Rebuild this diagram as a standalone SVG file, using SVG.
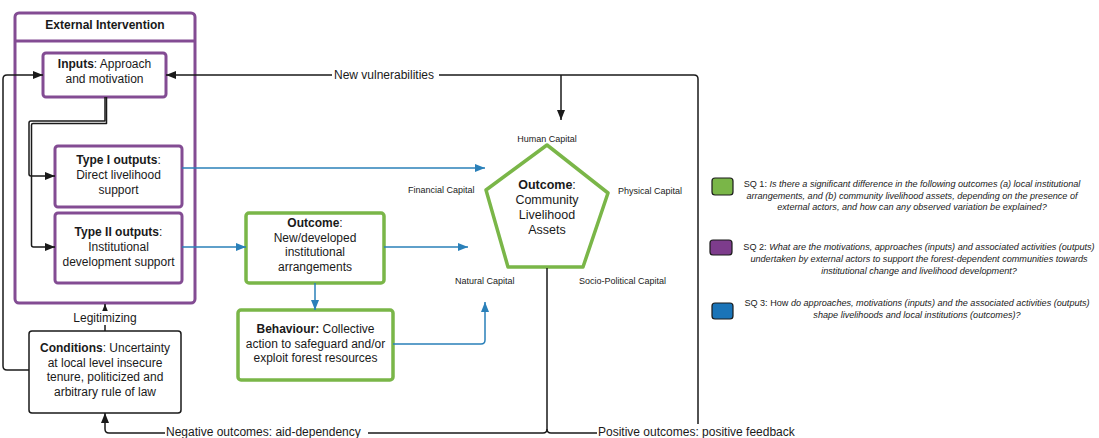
<svg xmlns="http://www.w3.org/2000/svg" width="1099" height="438" viewBox="0 0 1099 438">
<style>
text{font-family:"Liberation Sans",Arial,sans-serif;fill:#1a1a1a}
.t{font-size:12px;text-anchor:middle}
.b{font-weight:bold}
.cap{font-size:9px}
.lg{font-size:9.1px;text-anchor:middle}
.i{font-style:italic}
.pb{fill:#fff;stroke:#834c93;stroke-width:3}
.gb{fill:#fff;stroke:#7ab648;stroke-width:3.5}
.kb{fill:#fff;stroke:#1a1a1a;stroke-width:1.5}
.k{fill:none;stroke:#1a1a1a;stroke-width:1.5;stroke-linejoin:round}
.bl{fill:none;stroke:#2a80b9;stroke-width:1.5;stroke-linejoin:round}
.wb{fill:#fff}
</style>
<defs>
<marker id="ak" viewBox="0 0 10 10" refX="10" refY="5" markerWidth="10" markerHeight="10" markerUnits="userSpaceOnUse" orient="auto"><path d="M0,1 L10,5 L0,9 z" fill="#1a1a1a"/></marker>
<marker id="ab" viewBox="0 0 10 10" refX="10" refY="5" markerWidth="10" markerHeight="10" markerUnits="userSpaceOnUse" orient="auto"><path d="M0,1 L10,5 L0,9 z" fill="#2a80b9"/></marker>
</defs>
<rect width="1099" height="438" fill="#fff"/>

<g id="external-intervention">
<rect x="15" y="13" width="180" height="290" rx="4" fill="none" stroke="#834c93" stroke-width="3"/>
<line x1="15" y1="41" x2="195" y2="41" stroke="#834c93" stroke-width="3"/>
<text class="t b" x="105" y="29">External Intervention</text>
</g>

<g id="inputs">
<rect class="pb" x="43" y="53" width="123" height="44" rx="3"/>
<text class="t" x="104.5" y="68"><tspan class="b">Inputs</tspan>: Approach</text>
<text class="t" x="104.5" y="83">and motivation</text>
</g>

<g id="type1">
<rect class="pb" x="55" y="146" width="127" height="61" rx="3"/>
<text class="t" x="118.5" y="164"><tspan class="b">Type I outputs</tspan>:</text>
<text class="t" x="118.5" y="179">Direct livelihood</text>
<text class="t" x="118.5" y="194">support</text>
</g>

<g id="type2">
<rect class="pb" x="55" y="213" width="127" height="70" rx="3"/>
<text class="t" x="118.5" y="236"><tspan class="b">Type II outputs</tspan>:</text>
<text class="t" x="118.5" y="251">Institutional</text>
<text class="t" x="118.5" y="266">development support</text>
</g>

<g id="conditions">
<rect class="kb" x="29" y="331" width="152" height="82" rx="3"/>
<text class="t" x="105" y="352"><tspan class="b">Conditions</tspan>: Uncertainty</text>
<text class="t" x="105" y="366.5">at local level insecure</text>
<text class="t" x="105" y="381">tenure, politicized and</text>
<text class="t" x="105" y="396">arbitrary rule of law</text>
</g>

<g id="outcome-institutions">
<rect class="gb" x="246" y="213" width="138" height="70" rx="3"/>
<text class="t" x="315" y="227"><tspan class="b">Outcome</tspan>:</text>
<text class="t" x="315" y="241.5">New/developed</text>
<text class="t" x="315" y="256">institutional</text>
<text class="t" x="315" y="271">arrangements</text>
</g>

<g id="behaviour">
<rect class="gb" x="238" y="310" width="155" height="70" rx="3"/>
<text class="t" x="315.5" y="333"><tspan class="b">Behaviour:</tspan> Collective</text>
<text class="t" x="315.5" y="347.5">action to safeguard and/or</text>
<text class="t" x="315.5" y="362">exploit forest resources</text>
</g>

<g id="outcome-assets">
<path class="gb" d="M547,145 L608,193 L583,267 L508,267 L486,190 Z" stroke-linejoin="round"/>
<text class="t b" x="547" y="189" style="font-size:12.5px">Outcome<tspan style="font-weight:normal">:</tspan></text>
<text class="t" x="547" y="204" style="font-size:12.5px">Community</text>
<text class="t" x="547" y="219" style="font-size:12.5px">Livelihood</text>
<text class="t" x="547" y="234" style="font-size:12.5px">Assets</text>
<text class="cap" x="547" y="142" text-anchor="middle">Human Capital</text>
<text class="cap" x="408" y="193">Financial Capital</text>
<text class="cap" x="618" y="194">Physical Capital</text>
<text class="cap" x="455" y="284">Natural Capital</text>
<text class="cap" x="579" y="284">Socio-Political Capital</text>
</g>

<g id="connectors">
<path class="k" d="M105,97 V121 H31 Q29,121 29,123 V174 Q29,176 31,176 H55" marker-end="url(#ak)"/>
<path class="k" d="M106.5,97 V123.5 H33 Q31.5,123.5 31.5,125 V245 Q31.5,247 33.5,247 H55" marker-end="url(#ak)"/>
<path class="k" d="M105,331 V304"  marker-end="url(#ak)"/>
<path class="k" d="M29,370 H7 Q3,370 3,366 V79 Q3,75 7,75 H43" marker-end="url(#ak)"/>
<path class="k" d="M547,268 V429 Q547,433 543,433 H109 Q105,433 105,429 V413" marker-end="url(#ak)"/>
<path class="k" d="M547,429 Q547,433 551,433 H694 Q698,433 698,429 V79 Q698,75 694,75 H166" marker-end="url(#ak)"/>
<path class="k" d="M561,75 V120" marker-end="url(#ak)"/>
<path class="bl" d="M182,168 H485" marker-end="url(#ab)"/>
<path class="bl" d="M182,247 H246" marker-end="url(#ab)"/>
<path class="bl" d="M384,247 H468" marker-end="url(#ab)"/>
<path class="bl" d="M315,283 V310" marker-end="url(#ab)"/>
<path class="bl" d="M393,344 H481 Q485,344 485,340 V302" marker-end="url(#ab)"/>
<rect class="wb" x="66" y="311" width="78" height="14"/>
<text class="t" x="105" y="322">Legitimizing</text>
<rect class="wb" x="332" y="68" width="107" height="13"/>
<text x="334" y="78.5" style="font-size:12px">New vulnerabilities</text>
<rect class="wb" x="165" y="427" width="203" height="11"/>
<text x="166" y="436" style="font-size:12px">Negative outcomes: aid-dependency</text>
<rect class="wb" x="597" y="424" width="206" height="14"/>
<text x="598" y="436" style="font-size:12px">Positive outcomes: positive feedback</text>
</g>

<g id="legend-sq1">
<rect x="712" y="178" width="21" height="17" rx="3" fill="#7ab648" stroke="#1a1a1a" stroke-width="1.2"/>
<text class="lg" x="912" y="187">SQ 1: <tspan class="i">Is there a significant difference in the following outcomes (a) local institutional</tspan></text>
<text class="lg i" x="912" y="198.5">arrangements, and (b) community livelihood assets, depending on the presence of</text>
<text class="lg i" x="912" y="210">external actors, and how can any observed variation be explained?</text>
</g>

<g id="legend-sq2">
<rect x="710" y="240" width="22" height="15" rx="3" fill="#7d3c8c" stroke="#1a1a1a" stroke-width="1.2"/>
<text class="lg" x="919" y="250">SQ 2: <tspan class="i">What are the motivations, approaches (inputs) and associated activities (outputs)</tspan></text>
<text class="lg i" x="919" y="262">undertaken by external actors to support the forest-dependent communities towards</text>
<text class="lg i" x="919" y="274">institutional change and livelihood development?</text>
</g>

<g id="legend-sq3">
<rect x="712" y="303" width="21" height="16" rx="3" fill="#1a74b8" stroke="#1a1a1a" stroke-width="1.2"/>
<text class="lg" x="917" y="306">SQ 3: How <tspan class="i">do approaches, motivations (inputs) and the associated activities (outputs)</tspan></text>
<text class="lg i" x="917" y="318">shape livelihoods and local institutions (outcomes)?</text>
</g>
</svg>
